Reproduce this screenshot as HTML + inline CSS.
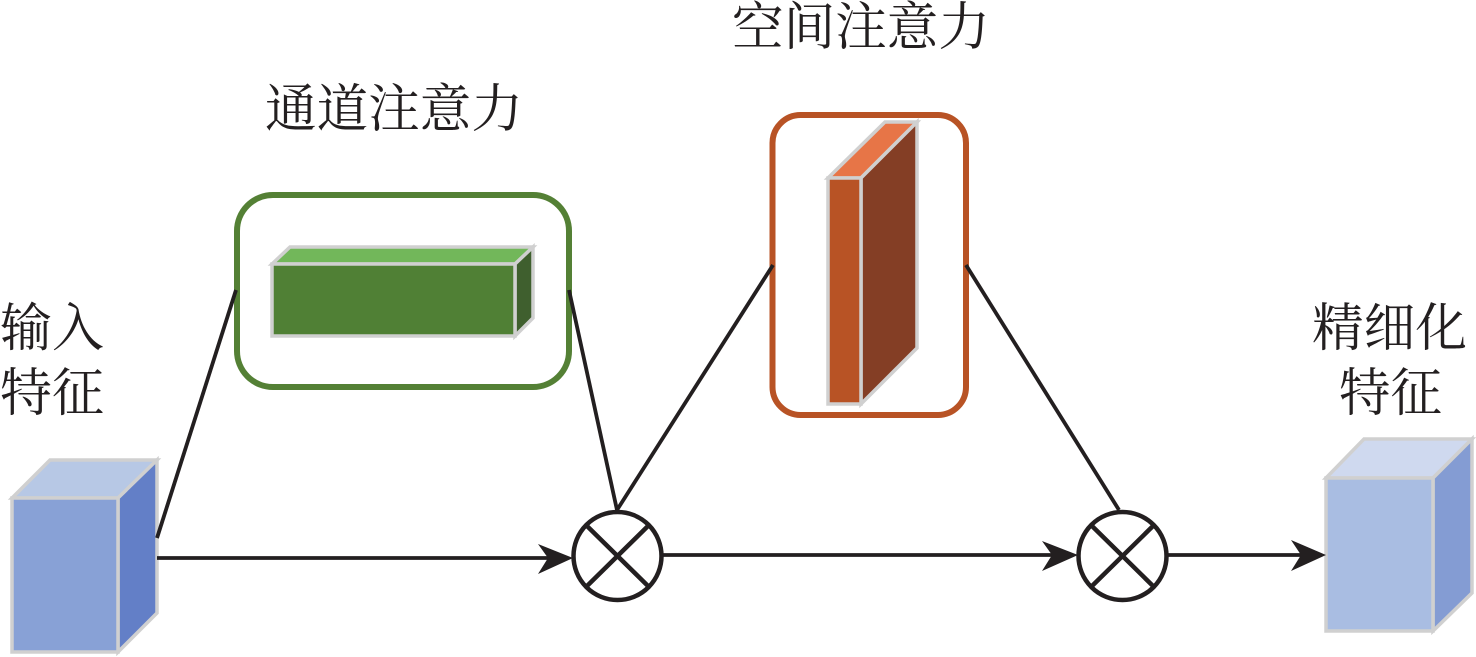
<!DOCTYPE html>
<html>
<head>
<meta charset="utf-8">
<style>
html,body{margin:0;padding:0;background:#fff;width:1476px;height:657px;overflow:hidden}
svg{display:block}
text{font-family:"Liberation Serif","Noto Serif CJK SC",serif;font-size:52px;fill:#231f20}
</style>
</head>
<body>
<svg width="1476" height="657" viewBox="0 0 1476 657" xmlns="http://www.w3.org/2000/svg">
<text x="265" y="127" textLength="258" lengthAdjust="spacingAndGlyphs">通道注意力</text>
<text x="732" y="45" textLength="258" lengthAdjust="spacingAndGlyphs">空间注意力</text>
<text x="0" y="346" textLength="104" lengthAdjust="spacingAndGlyphs">输入</text>
<text x="0" y="411" textLength="104" lengthAdjust="spacingAndGlyphs">特征</text>
<text x="1312" y="346" textLength="155" lengthAdjust="spacingAndGlyphs">精细化</text>
<text x="1339" y="411" textLength="103" lengthAdjust="spacingAndGlyphs">特征</text>

<rect x="237" y="195" width="332" height="192" rx="36" fill="none" stroke="#548035" stroke-width="6"/>
<rect x="772.5" y="115" width="193.5" height="300" rx="28" fill="none" stroke="#b85325" stroke-width="6"/>

<g stroke="#d0d0d0" stroke-width="3.5" stroke-linejoin="miter">
<polygon points="272,264 290,247 533,247 515,264" fill="#72b75a"/>
<polygon points="515,264 533,247 533,318 515,336" fill="#3f5f2e"/>
<rect x="272" y="264" width="243" height="72" fill="#508035"/>

<polygon points="828,178 885,122 917,122 861,178" fill="#e77547"/>
<polygon points="861,178 917,122 917,348 861,404" fill="#843e25"/>
<rect x="828" y="178" width="33" height="226" fill="#b85325"/>

<polygon points="12,498 50,460 157,460 118,498" fill="#b7c8e5"/>
<polygon points="118,498 157,460 157,613 118,652" fill="#637fc7"/>
<rect x="12" y="498" width="106" height="154" fill="#88a1d6"/>

<polygon points="1326,478 1364,439 1472,439 1433,478" fill="#cfd9ef"/>
<polygon points="1433,478 1472,439 1472,593 1433,631" fill="#849cd3"/>
<rect x="1326" y="478" width="107" height="153" fill="#a9bde2"/>
</g>

<g fill="none" stroke="#231f20" stroke-width="3.8">
<path d="M157,538 L236,290"/>
<path d="M569,290 L617,510"/>
<path d="M617,510 L773,265"/>
<path d="M966,265 L1119,510"/>
<path d="M157,558 L548,558"/>
<path d="M663,555 L1052,555"/>
<path d="M1167,555 L1302,555"/>
</g>
<g fill="#231f20">
<polygon points="538,544 573,558 538,574 548,558"/>
<polygon points="1042,541 1078,555 1042,571 1052,555"/>
<polygon points="1291,540 1326,555 1291,571 1301,555"/>
</g>
<g fill="#fff" stroke="#231f20" stroke-width="4.5">
<circle cx="617.5" cy="556" r="44"/>
<path d="M587,526 L648,586 M648,526 L587,586" fill="none"/>
<circle cx="1122.5" cy="556" r="44"/>
<path d="M1092,526 L1153,586 M1153,526 L1092,586" fill="none"/>
</g>
</svg>
</body>
</html>
